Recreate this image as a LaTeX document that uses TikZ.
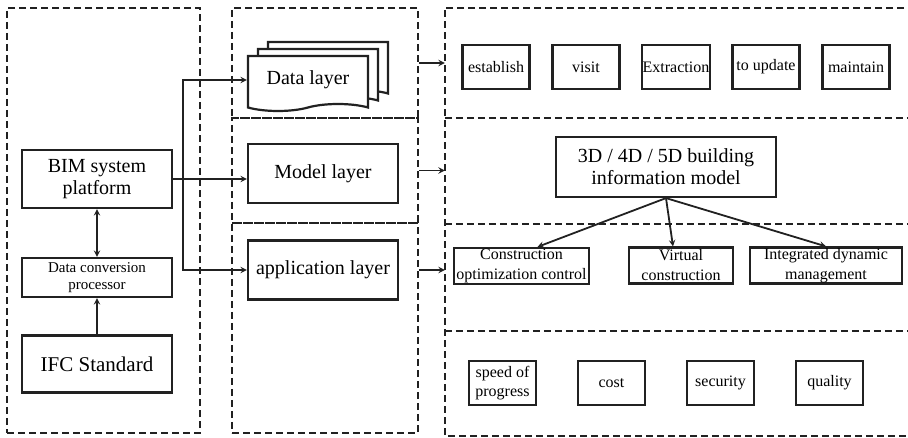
\documentclass[tikz,border=0pt]{standalone}
\usepackage{fontspec}
\setmainfont{Liberation Serif}
\usetikzlibrary{shapes.symbols,shadows,arrows}
\definecolor{ink}{gray}{0.13}
\tikzstyle{panel} = [rectangle, draw=ink, line width=1.8pt, dash pattern=on 7pt off 4pt, inner sep=0pt]
\tikzstyle{frame} = [rectangle, inner sep=0pt]
\tikzstyle{layer} = [rectangle, draw=ink, line width=2.2pt, minimum width=150pt, minimum height=59pt, align=center, font=\fontsize{20}{22}\selectfont]
\tikzstyle{item} = [rectangle, draw=ink, line width=2.2pt, minimum width=67pt, minimum height=44pt, inner sep=1pt, align=center, font=\fontsize{16}{19}\selectfont]
\tikzstyle{task} = [rectangle, draw=ink, line width=2.2pt, minimum height=36pt, inner xsep=1pt, inner ysep=0pt, align=center, font=\fontsize{16}{20}\selectfont]
\tikzstyle{arrow} = [line width=1.8pt, draw=ink, ->, >=stealth]

\begin{document}
\begin{tikzpicture}[x=1pt, y=-1pt, node distance=90pt]
\useasboundingbox (0,0) rectangle (908,438);
\clip (0,0) rectangle (908,438);

% dashed frames
\node (lpanel) [panel, minimum width=193pt, minimum height=425pt] at (103.5,220.5) {};
\node (pdata) [panel, minimum width=186pt, minimum height=110pt] at (325,63) {};
\node (pmodel) [panel, minimum width=186pt, minimum height=105pt] at (325,170.5) {};
\node (papp) [panel, minimum width=186pt, minimum height=210pt] at (325,328) {};
\node (rdata) [frame, minimum width=470pt, minimum height=110pt] at (680,63) {};
\node (rmodel) [frame, minimum width=470pt, minimum height=106pt] at (680,171) {};
\node (rapp) [frame, minimum width=470pt, minimum height=107pt] at (680,277.5) {};
\node (rgoal) [frame, minimum width=470pt, minimum height=105pt] at (680,383.5) {};
\draw [panel] (rdata.north east) -- (rdata.north west) -- (rgoal.south west) -- (rgoal.south east);
\draw [panel] (rmodel.north west) -- (rmodel.north east);
\draw [panel] (rapp.north west) -- (rapp.north east);
\draw [panel] (rgoal.north west) -- (rgoal.north east);

% platform side
\node (bim) [layer, minimum height=58pt] at (97,179) {BIM system\\platform};
\node (dcp) [layer, minimum height=39pt, font=\fontsize{15}{17}\selectfont] at (97,277.5) {Data conversion\\processor};
\node (ifc) [layer, minimum height=57pt, font=\fontsize{21}{23}\selectfont] at (97,364) {IFC Standard};
\draw [arrow,<->] (dcp) -- (bim);
\draw [arrow] (ifc) -- (dcp);

% layers
\node (data) [layer, tape, tape bend top=none, tape bend height=7pt, minimum width=120pt, minimum height=55pt, fill=white,
  double copy shadow={shadow xshift=10pt, shadow yshift=7pt}] at (308,80) {Data layer};
\node (model) [layer] at (323,173.5) {Model layer};
\node (app) [layer] at (323,270) {application layer};

\coordinate (fork) at (183,179);
\draw [arrow] (bim.east) -- (bim.east -| model.west);
\draw [arrow] (fork) |- (data.west);
\draw [arrow] (fork) |- (app.west);

\draw [arrow] (pdata.east) -- (pdata.east -| rdata.west);
\draw [arrow] (pmodel.east) -- (pmodel.east -| rmodel.west);
\draw [arrow] (papp.east |- app) -- (app -| rapp.west);

% data operations
\node (establish) [item] at (496,67) {establish};
\node (visit) [item, right of=establish] {visit};
\node (extract) [item, right of=visit] {Extraction};
\node (update) [item, right of=extract] {to update};
\node (maintain) [item, right of=update] {maintain};

% model and applications
\node (infomodel) [layer, minimum width=220pt, minimum height=60pt] at (666,167) {3D / 4D / 5D building\\information model};
\node (coc) [task, minimum width=135pt] at (521.5,266) {Construction\\optimization control};
\node (virt) [task, minimum width=104pt] at (681,265.5) {Virtual\\construction};
\node (idm) [task, minimum width=152pt] at (826,265.5) {Integrated dynamic\\management};
\draw [arrow] (infomodel.south) -- ([xshift=16pt]coc.north);
\draw [arrow] (infomodel.south) -- ([xshift=-8pt]virt.north);
\draw [arrow] (infomodel.south) -- (idm.north);

% goals
\node (speed) [item] at (502.5,383) {speed of\\progress};
\node (cost) [item, right of=speed, node distance=109pt] {cost};
\node (security) [item, right of=cost, node distance=109pt] {security};
\node (quality) [item, right of=security, node distance=109pt] {quality};
\end{tikzpicture}
\end{document}
